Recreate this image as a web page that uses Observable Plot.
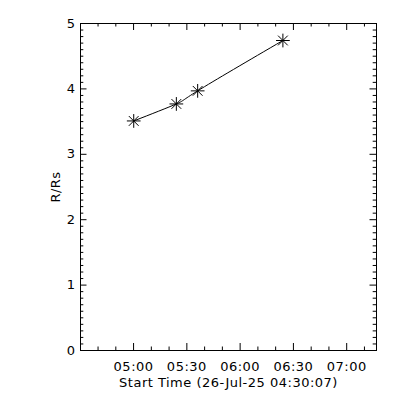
<!DOCTYPE html>
<html>
<head>
<meta charset="utf-8">
<script src="https://cdn.jsdelivr.net/npm/d3@7"></script>
<script src="https://cdn.jsdelivr.net/npm/@observablehq/plot@0.6"></script>
<style>
  html, body { margin: 0; padding: 0; background: #fff; }
  #chart svg { display: block; }
  #chart svg text { letter-spacing: 0.5px; }
</style>
</head>
<body>
<div id="chart"></div>
<script>
// ---- data ----
const startTime = "2025-07-26T04:30:07Z";
const obsTimes = ["05:00:05", "05:24:05", "05:36:05", "06:24:05"];
const obsHeights = [3.51, 3.77, 3.97, 4.74];
const xMajorLabels = ["05:00", "05:30", "06:00", "06:30", "07:00"];
const xMinorLabels = ["04:40", "04:50", "05:10", "05:20", "05:40", "05:50",
  "06:10", "06:20", "06:40", "06:50", "07:10"];
const yMajor = [0, 1, 2, 3, 4, 5];
const yMinor = [0.1,0.2,0.3,0.4,0.5,0.6,0.7,0.8,0.9,
  1.1,1.2,1.3,1.4,1.5,1.6,1.7,1.8,1.9,
  2.1,2.2,2.3,2.4,2.5,2.6,2.7,2.8,2.9,
  3.1,3.2,3.3,3.4,3.5,3.6,3.7,3.8,3.9,
  4.1,4.2,4.3,4.4,4.5,4.6,4.7,4.8,4.9];
const xSpanSeconds = 10000;
const xTitle = "Start Time (26-Jul-25 04:30:07)";
const yTitle = "R/Rs";

// ---- build ----
const day = "2025-07-26T";
const t0 = new Date(startTime);
const tEnd = new Date(+t0 + xSpanSeconds * 1000);
const toDate = (hm) => new Date(day + (hm.length === 5 ? hm + ":00" : hm) + "Z");
const points = obsTimes.map((t, i) => ({time: toDate(t), r: obsHeights[i]}));
const xMajor = xMajorLabels.map(toDate);
const xMinor = xMinorLabels.map(toDate);

const W = 400, H = 400;
const mL = 80, mR = 24, mT = 23, mB = 50;
const innerW = W - mL - mR, innerH = H - mT - mB;
const majX = 7, minX = 3.5, majY = 6.5, minY = 3.3;
const font = "DejaVu Sans, sans-serif";
const fmt = d3.utcFormat("%H:%M");

const chart = Plot.plot({
  width: W,
  height: H,
  marginLeft: mL,
  marginRight: mR,
  marginTop: mT,
  marginBottom: mB,
  style: {fontFamily: font, fontSize: "13px", color: "#000", background: "#fff"},
  x: {type: "utc", domain: [t0, tEnd]},
  y: {domain: [0, 5]},
  marks: [
    Plot.frame({stroke: "#000", strokeWidth: 1}),
    // x ticks bottom & top (inward)
    Plot.ruleX(xMajor, {x: d => d, insetTop: innerH - majX, stroke: "#000"}),
    Plot.ruleX(xMajor, {x: d => d, insetBottom: innerH - majX, stroke: "#000"}),
    Plot.ruleX(xMinor, {x: d => d, insetTop: innerH - minX, stroke: "#000"}),
    Plot.ruleX(xMinor, {x: d => d, insetBottom: innerH - minX, stroke: "#000"}),
    // y ticks left & right (inward)
    Plot.ruleY(yMajor, {y: d => d, insetRight: innerW - majY, stroke: "#000"}),
    Plot.ruleY(yMajor, {y: d => d, insetLeft: innerW - majY, stroke: "#000"}),
    Plot.ruleY(yMinor, {y: d => d, insetRight: innerW - minY, stroke: "#000"}),
    Plot.ruleY(yMinor, {y: d => d, insetLeft: innerW - minY, stroke: "#000"}),
    // axes labels
    Plot.axisX(xMajor, {tickSize: 0, tickPadding: 11, tickFormat: fmt, fontSize: 13,
      label: xTitle, labelAnchor: "center", labelArrow: "none", labelOffset: 36}),
    Plot.axisY(yMajor, {tickSize: 0, tickPadding: 5, tickFormat: d => String(d), fontSize: 13,
      label: yTitle, labelAnchor: "center", labelArrow: "none", labelOffset: 30}),
    // data
    Plot.line(points, {x: "time", y: "r", curve: "natural", stroke: "#000", strokeWidth: 1}),
    Plot.dot(points, {x: "time", y: "r", symbol: "plus", r: 4.5, stroke: "#000", strokeWidth: 1}),
    Plot.dot(points, {x: "time", y: "r", symbol: "times", r: 4.5, stroke: "#000", strokeWidth: 1})
  ]
});
document.getElementById("chart").appendChild(chart);
</script>
</body>
</html>
